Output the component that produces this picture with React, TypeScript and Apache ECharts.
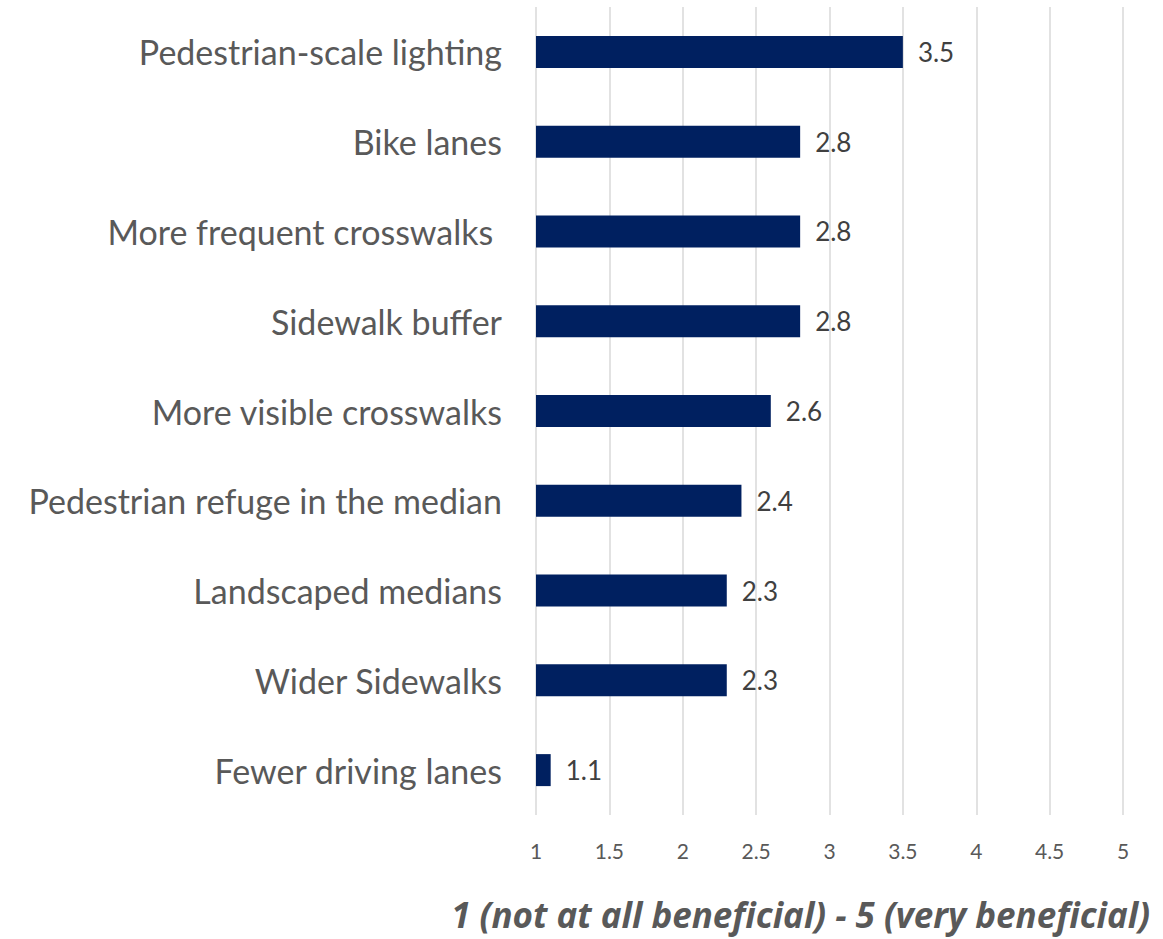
import React, { useEffect, useRef } from "react";
import * as echarts from "echarts";

const categories = [
  "Pedestrian-scale lighting",
  "Bike lanes",
  "More frequent crosswalks ",
  "Sidewalk buffer",
  "More visible crosswalks",
  "Pedestrian refuge in the median",
  "Landscaped medians",
  "Wider Sidewalks",
  "Fewer driving lanes",
];
const values = [3.5, 2.8, 2.8, 2.8, 2.6, 2.4, 2.3, 2.3, 1.1];
const axisTitle = "1 (not at all beneficial) - 5 (very beneficial)";

const FONT = "Lato, 'Open Sans', sans-serif";

export default function App() {
  const ref = useRef<HTMLDivElement>(null);
  useEffect(() => {
    if (!ref.current) return;
    const chart = echarts.init(ref.current, undefined, { renderer: "svg" });
    chart.setOption({
      animation: false,
      backgroundColor: "#ffffff",
      grid: { left: 536, right: 40, top: 7, bottom: 124, containLabel: false },
      xAxis: {
        type: "value",
        min: 1,
        max: 5,
        interval: 0.5,
        axisLine: { show: false },
        axisTick: { show: false },
        splitLine: { show: true, lineStyle: { color: "#d9d9d9", width: 1.5 } },
        axisLabel: {
          color: "#595959",
          fontSize: 21,
          fontFamily: FONT,
          margin: 25,
        },
      },
      yAxis: {
        type: "category",
        data: categories,
        inverse: true,
        axisLine: { show: false },
        axisTick: { show: false },
        axisLabel: {
          color: "#595959",
          fontSize: 34,
          fontFamily: FONT,
          margin: 34,
        },
      },
      series: [
        {
          type: "bar",
          data: values,
          barWidth: 32,
          itemStyle: { color: "#002060" },
          label: {
            show: true,
            position: "right",
            distance: 15,
            color: "#404040",
            fontSize: 26,
            fontFamily: FONT,
          },
        },
      ],
      graphic: [
        {
          type: "text",
          right: 13,
          top: 897,
          style: {
            text: axisTitle,
            fill: "#595959",
            font: "italic bold 35px 'Open Sans', Lato, sans-serif",
          },
        },
      ],
    });
    return () => chart.dispose();
  }, []);
  return (
    <div
      ref={ref}
      style={{ position: "fixed", left: 0, top: 0, width: 1163, height: 939 }}
    />
  );
}
